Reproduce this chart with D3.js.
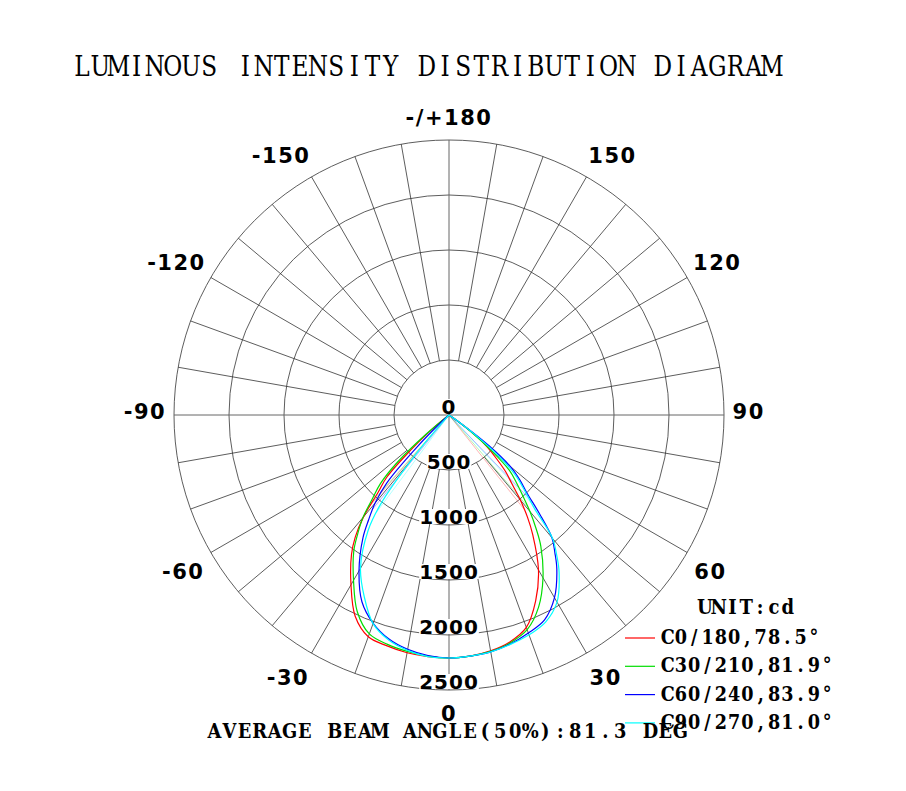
<!DOCTYPE html>
<html>
<head>
<meta charset="utf-8">
<title>Luminous intensity distribution</title>
<script src="https://d3js.org/d3.v7.min.js"></script>
<style>
  body { margin: 0; background: #fff; }
</style>
</head>
<body>
<div id="chart"></div>
<script>
// gamma angles (deg from nadir) shared by every half plane
const GAMMA = [0, 5, 10, 15, 20, 25, 30, 35, 37.5, 40, 42.5, 45, 47.5, 50, 52.5, 55, 57.5, 60, 70, 80, 90];

// intensities in cd
const C0   = [2209, 2200, 2177, 2136, 2055, 1864, 1627, 1327, 1173, 1009, 845, 727, 582, 455, 318, 91, 0, 0, 0, 0, 0];
const C180 = [2209, 2205, 2195, 2173, 2145, 2018, 1782, 1545, 1400, 1209, 955, 800, 473, 200, 0, 0, 0, 0, 0, 0, 0];
const C30  = [2209, 2200, 2182, 2145, 2077, 1927, 1709, 1455, 1300, 1145, 991, 864, 745, 500, 255, 45, 0, 0, 0, 0, 0];
const C210 = [2209, 2200, 2182, 2159, 2118, 1973, 1736, 1509, 1364, 1218, 1027, 882, 636, 273, 0, 0, 0, 0, 0, 0, 0];
const C60  = [2209, 2200, 2186, 2155, 2109, 2055, 1918, 1709, 1582, 1455, 1218, 1000, 873, 727, 455, 91, 0, 0, 0, 0, 0];
const C240 = [2209, 2195, 2164, 2109, 2015, 1873, 1636, 1364, 1200, 1045, 836, 409, 91, 0, 0, 0, 0, 0, 0, 0, 0];
const C90  = [2209, 2200, 2186, 2159, 2127, 2077, 1964, 1745, 1609, 1464, 1145, 973, 836, 636, 345, 73, 0, 0, 0, 0, 0];
const C270 = [2209, 2205, 2173, 2118, 2018, 1823, 1609, 1282, 1018, 500, 45, 0, 0, 0, 0, 0, 0, 0, 0, 0, 0];

const SERIES_NAMES = ["C0/180", "C30/210", "C60/240", "C90/270"];
const BEAM_ANGLES = [78.5, 81.9, 83.9, 81.0];
const AVG_BEAM = 81.3;

const RING_TICKS = [0, 500, 1000, 1500, 2000, 2500];
const ANGLE_TICKS = [0, 30, 60, 90, 120, 150, 180, -150, -120, -90, -60, -30];

// right half / left half of each C plane pair
let series = [
    {name: SERIES_NAMES[0], beam: BEAM_ANGLES[0], right: C0,  left: C180, color: "#ff0000"},
    {name: SERIES_NAMES[1], beam: BEAM_ANGLES[1], right: C30, left: C210, color: "#00dd00"},
    {name: SERIES_NAMES[2], beam: BEAM_ANGLES[2], right: C60, left: C240, color: "#0000ff"},
    {name: SERIES_NAMES[3], beam: BEAM_ANGLES[3], right: C90, left: C270, color: "#00ffff"}
];

let w = 906, h = 791;
let cx = 449, cy = 415, R = 275;

let svg = d3.select("#chart")
    .append("svg")
        .attr("width", w)
        .attr("height", h)
        .style("display", "block");

let rScale = d3.scaleLinear()
    .domain([0, 2500])
    .range([0, R]);

// a = angle in degrees, 0 at the bottom, positive to the right
function toRad(a) { return a * Math.PI / 180; }
function pos(a, r) {
    return [cx + r * Math.sin(toRad(a)), cy + r * Math.cos(toRad(a))];
}

// typewriter-like text: slab serif glyphs squeezed and set on a fixed pitch
function typeText(parent, str, x0, y, pitch, size, weight, sx) {
    let xs = [];
    for (let k = 0; k < str.length; k++) xs.push(((k + 0.5) * pitch / sx).toFixed(2));
    return parent.append("g")
        .attr("transform", "translate(" + x0 + "," + y + ") scale(" + sx + ",1)")
        .append("text")
        .attr("x", xs.join(" "))
        .attr("y", 0)
        .attr("text-anchor", "middle")
        .attr("font-family", "'DejaVu Serif', serif")
        .attr("font-weight", weight)
        .attr("font-size", size + "px")
        .attr("fill", "#000")
        .text(str);
}

// title
typeText(svg, "LUMINOUS INTENSITY DISTRIBUTION DIAGRAM", 73, 76, 18.15, 27, "normal", 0.86);

// grid: rings
let grid = svg.append("g");
grid.selectAll("circle")
    .data(RING_TICKS.slice(1))
    .enter()
    .append("circle")
    .attr("cx", cx)
    .attr("cy", cy)
    .attr("r", d => rScale(d))
    .attr("fill", "none")
    .attr("stroke", "#333")
    .attr("stroke-width", 0.8);

// grid: spokes every 10 degrees, main axes go through the centre
let spokes = d3.range(-170, 190, 10);
grid.selectAll("line")
    .data(spokes)
    .enter()
    .append("line")
    .each(function(a) {
        let main = (a % 90 === 0);
        let p0 = pos(a, main ? 0 : rScale(RING_TICKS[1]));
        let p1 = pos(a, R);
        d3.select(this)
            .attr("x1", p0[0]).attr("y1", p0[1])
            .attr("x2", p1[0]).attr("y2", p1[1])
            .attr("stroke", main ? "#666" : "#333")
            .attr("stroke-width", main ? 1 : 0.8);
    });

// intensity labels along the nadir axis, with a white box behind
let ringLabels = svg.append("g");
RING_TICKS.forEach(function(v) {
    let g = ringLabels.append("g");
    let t = g.append("text")
        .attr("x", cx)
        .attr("y", cy + rScale(v) - 1)
        .attr("text-anchor", "middle")
        .attr("font-family", "'DejaVu Sans', sans-serif")
        .attr("font-weight", "bold")
        .attr("font-size", "20px")
        .attr("letter-spacing", "1px")
        .attr("fill", "#000")
        .text(v);
    let b = t.node().getBBox();
    g.insert("rect", "text")
        .attr("x", b.x)
        .attr("y", cy + rScale(v) - 16)
        .attr("width", b.width)
        .attr("height", 15)
        .attr("fill", "#fff");
});

// curves
let line = d3.lineRadial()
    .angle(d => Math.PI - toRad(d.a))
    .radius(d => rScale(d.i))
    .curve(d3.curveCatmullRom);

function halfPoints(vals, sign) {
    let pts = [];
    for (let k = 0; k < GAMMA.length; k++) {
        pts.push({a: sign * GAMMA[k], i: vals[k]});
        if (vals[k] === 0) break;
    }
    return pts;
}

// gamma where the intensity falls to half of the peak
function halfAngle(vals, half) {
    for (let k = 1; k < GAMMA.length; k++) {
        if (vals[k] <= half) {
            let t = (vals[k - 1] - half) / (vals[k - 1] - vals[k]);
            return GAMMA[k - 1] + t * (GAMMA[k] - GAMMA[k - 1]);
        }
    }
    return 90;
}

let curves = svg.append("g").attr("transform", "translate(" + cx + "," + cy + ")");

// pale beam angle lines
series.forEach(function(s) {
    let half = d3.max(s.right.concat(s.left)) / 2;
    [[s.right, 1], [s.left, -1]].forEach(function(pair) {
        let g = halfAngle(pair[0], half) * pair[1];
        let p = pos(g, rScale(half));
        curves.append("line")
            .attr("x1", 0).attr("y1", 0)
            .attr("x2", p[0] - cx).attr("y2", p[1] - cy)
            .attr("stroke", s.color)
            .attr("stroke-opacity", 0.3)
            .attr("stroke-width", 1);
    });
});

series.forEach(function(s) {
    let pts = halfPoints(s.left, -1).reverse().concat(halfPoints(s.right, 1).slice(1));
    curves.append("path")
        .attr("d", line(pts))
        .attr("fill", "none")
        .attr("stroke", s.color)
        .attr("stroke-width", 1.2);
});

// angle labels round the outside, box corner kept off the circle
let angleLabels = svg.append("g");
ANGLE_TICKS.forEach(function(a) {
    let t = angleLabels.append("text")
        .attr("text-anchor", "middle")
        .attr("font-family", "'DejaVu Sans', sans-serif")
        .attr("font-weight", "bold")
        .attr("font-size", "21px")
        .attr("letter-spacing", "1.5px")
        .attr("fill", "#000")
        .text(a === 180 ? "-/+180" : a);
    let hw = t.node().getComputedTextLength() / 2;
    let s = Math.sin(toRad(a)), c = Math.cos(toRad(a));
    let sx = Math.abs(s) < 1e-6 ? 0 : Math.sign(s);
    let sy = Math.abs(c) < 1e-6 ? 0 : Math.sign(c);
    let x = cx + 286 * s + sx * hw * 0.85;
    let y = cy + 290 * c + sy * 8 + (c > 0.1 && c < 0.9 ? 3 : 0) - (sy === 0 ? 4 : 0);
    t.attr("x", x).attr("y", y + 7.5);
});

// legend
typeText(svg, "UNIT:cd", 698, 614, 13.8, 20, "bold", 0.9);

series.forEach(function(s, k) {
    let y = 638 + k * 28.3;
    svg.append("line")
        .attr("x1", 625).attr("x2", 655)
        .attr("y1", y).attr("y2", y)
        .attr("stroke", s.color)
        .attr("stroke-width", 1.2);
    typeText(svg, s.name + "," + s.beam.toFixed(1) + "\u00b0", 661, y + 6, 13.3, 20.5, "bold", 0.86);
});

// average beam angle
typeText(svg, "AVERAGE BEAM ANGLE(50%):" + AVG_BEAM.toFixed(1) + " DEG", 207, 738, 15.03, 21, "bold", 0.85);
</script>
</body>
</html>
